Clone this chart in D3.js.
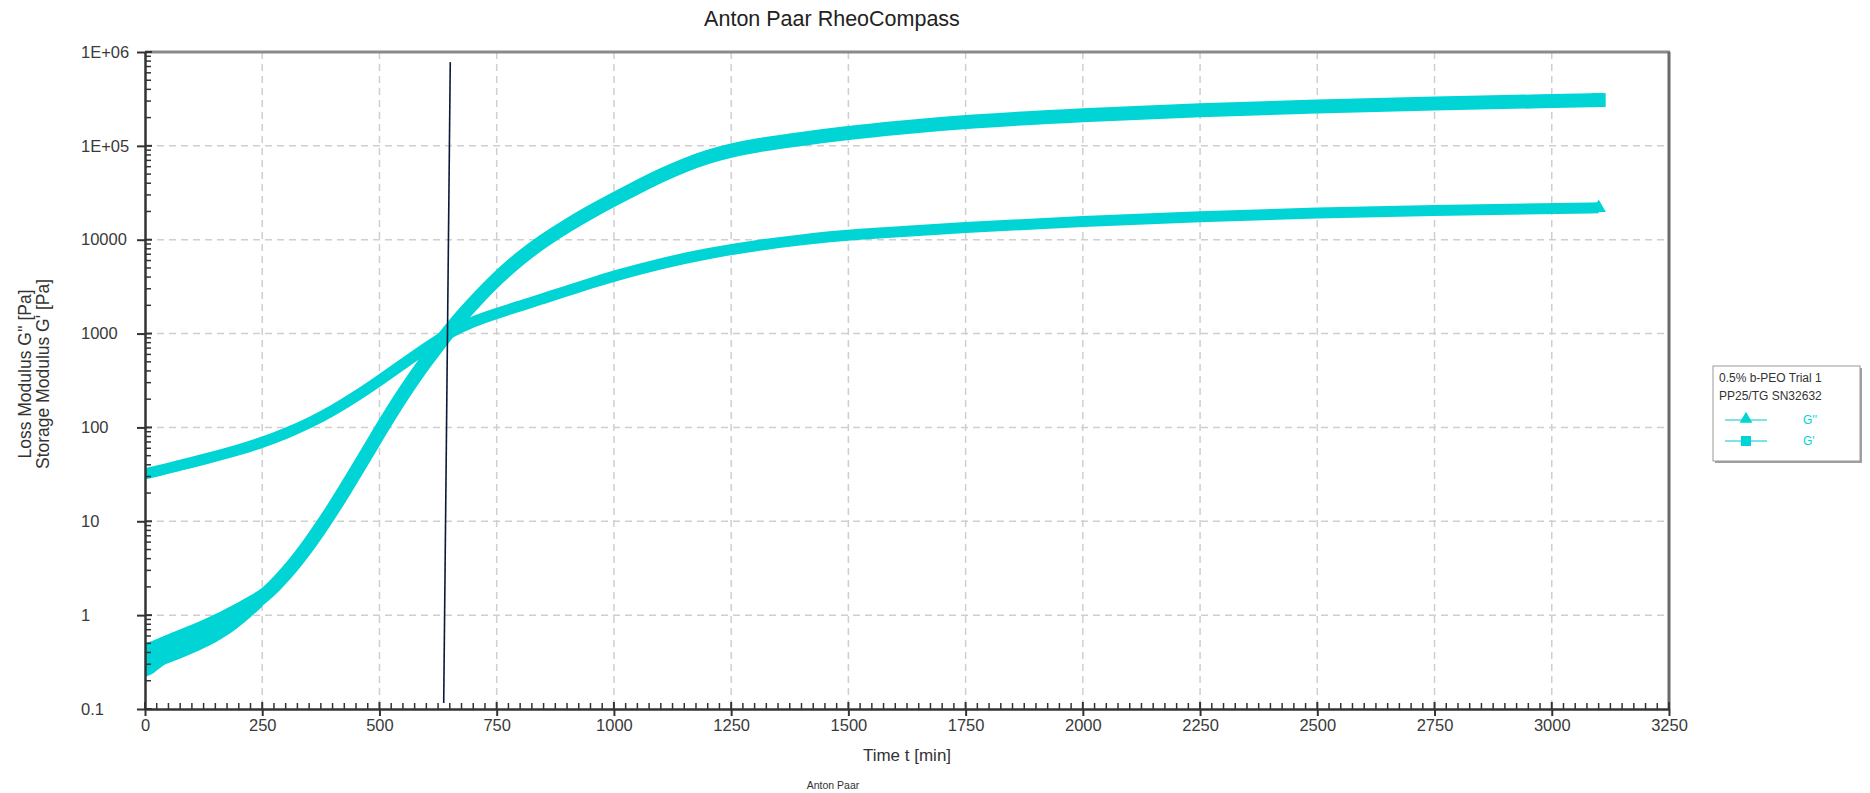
<!DOCTYPE html>
<html><head><meta charset="utf-8">
<script src="https://cdn.jsdelivr.net/npm/d3@7"></script>
<style>body{margin:0;background:#fff} text{font-family:"Liberation Sans",Arial,sans-serif}</style>
</head><body><svg id="c" width="1870" height="793"></svg>
<script>
const chartTitle = "Anton Paar RheoCompass";
const xAxisTitle = "Time t [min]";
const yAxisTitles = ["Loss Modulus  G''  [Pa]", "Storage Modulus  G'  [Pa]"];
const footerText = "Anton Paar";
const xTickValues = [0,250,500,750,1000,1250,1500,1750,2000,2250,2500,2750,3000,3250];
const yTickValues = [0.1,1,10,100,1000,10000,1e5,1e6];
const yTickLabels = ["0.1","1","10","100","1000","10000","1E+05","1E+06"];

const storageTime = [0,10,20,30,40,50,60,80,100,125,150,175,200,225,250,275,300,325,350,375,400,425,450,475,500,525,550,575,600,625,650,675,700,750,800,850,900,950,1000,1050,1100,1150,1200,1250,1300,1400,1500,1600,1750,2000,2250,2500,2750,3000,3100];
const storageModulus = [0.33,0.34,0.37,0.39,0.41,0.44,0.46,0.50,0.56,0.63,0.72,0.85,1.02,1.24,1.55,2.02,2.75,3.89,5.69,8.61,13.3,21.1,33.9,55.0,89.1,143,224,343,513,750,1084,1531,2113,3846,6383,9772,14125,19724,26915,36300,48400,62400,76700,89500,100700,118900,137400,154900,181100,213800,240400,262400,283100,299900,307600];
const storageSpreadTime = [0,20,40,60,100,150,200,225,250];
const storageSpreadLow  = [0.22,0.24,0.30,0.32,0.39,0.50,0.74,0.95,1.23];
const storageSpreadHigh = [0.50,0.54,0.60,0.66,0.79,1.02,1.38,1.62,1.95];

const lossTime = [0,25,50,75,100,125,150,200,250,300,350,400,450,500,550,600,650,700,750,800,850,900,950,1000,1100,1200,1300,1400,1500,1750,2000,2250,2500,2750,3000,3100];
const lossModulus = [32,34.3,36.7,39.5,42.5,45.7,49.2,57.5,69,86,111,150,214,316,473,708,1035,1350,1640,1970,2370,2850,3430,4100,5600,7150,8650,10000,11300,13600,15700,17600,19400,20500,21400,21900];

const markerLineTime = [651, 637];
const markerLineValue = [7.8e5, 0.116];

const legendTitles = ["0.5% b-PEO Trial 1", "PP25/TG SN32632"];
const seriesNames = ["G''", "G'"];
const seriesColor = "#00d4d4";

const L = 145, R = 1669, T = 52, B = 709;
const svg = d3.select("#c");
const x = d3.scaleLinear().domain([0, 3250]).range([L, R]);
const y = d3.scaleLog().domain([0.1, 1e6]).range([B, T]);

// grid
const grid = svg.append("g").attr("stroke", "#cfcfcf").attr("stroke-width", 1.5).attr("stroke-dasharray", "7,5");
grid.selectAll(".gx").data(xTickValues.slice(1, -1)).enter().append("line")
  .attr("x1", d => x(d)).attr("x2", d => x(d)).attr("y1", T).attr("y2", B);
grid.selectAll(".gy").data(yTickValues.slice(1, -1)).enter().append("line")
  .attr("x1", L).attr("x2", R).attr("y1", d => y(d)).attr("y2", d => y(d));

// clip
svg.append("clipPath").attr("id", "clip").append("rect").attr("x", L).attr("y", T).attr("width", R - L).attr("height", B - T);
const plot = svg.append("g").attr("clip-path", "url(#clip)");

const storage = storageTime.map((t, i) => ({t, v: storageModulus[i]}));
const loss = lossTime.map((t, i) => ({t, v: lossModulus[i]}));
const spread = storageSpreadTime.map((t, i) => ({t, lo: storageSpreadLow[i], hi: storageSpreadHigh[i]}));

const line = d3.line().x(d => x(d.t)).y(d => y(d.v)).curve(d3.curveBasis);

plot.append("path").datum(spread)
  .attr("d", d3.area().x(d => x(d.t)).y0(d => y(d.lo)).y1(d => y(d.hi)).curve(d3.curveBasis))
  .attr("fill", seriesColor);
plot.append("path").datum(loss).attr("d", line).attr("fill", "none").attr("stroke", seriesColor).attr("stroke-width", 11);
plot.append("path").datum(storage).attr("d", line).attr("fill", "none").attr("stroke", seriesColor).attr("stroke-width", 14);

// end markers
const lastS = storage[storage.length - 1], lastL = loss[loss.length - 1];
plot.append("rect").attr("x", x(lastS.t) - 7).attr("y", y(lastS.v) - 7).attr("width", 14).attr("height", 14).attr("fill", seriesColor);
plot.append("path").attr("d", d3.symbol().type(d3.symbolTriangle).size(90)()).attr("transform", `translate(${x(lastL.t)},${y(lastL.v)})`).attr("fill", seriesColor);

// annotation line
svg.append("line")
  .attr("x1", x(markerLineTime[0])).attr("y1", y(markerLineValue[0]))
  .attr("x2", x(markerLineTime[1])).attr("y2", y(markerLineValue[1]))
  .attr("stroke", "#0b1a38").attr("stroke-width", 1.6);

// frame top/right
svg.append("line").attr("x1", L).attr("x2", R + 1).attr("y1", T).attr("y2", T).attr("stroke", "#8a8a8a").attr("stroke-width", 3);
svg.append("line").attr("x1", R).attr("x2", R).attr("y1", T).attr("y2", B).attr("stroke", "#6a6a6a").attr("stroke-width", 3);

// minor ticks y
const minorY = [];
yTickValues.slice(0, -1).forEach(d => { for (let k = 2; k <= 9; k++) minorY.push(d * k); });
svg.append("g").selectAll("line").data(minorY).enter().append("line")
  .attr("x1", L).attr("x2", L + 6).attr("y1", d => y(d)).attr("y2", d => y(d))
  .attr("stroke", "#333").attr("stroke-width", 1.5);
// minor ticks x
const minorX = d3.range(25, 3250, 25).filter(d => d % 250 !== 0);
svg.append("g").selectAll("line").data(minorX).enter().append("line")
  .attr("x1", d => x(d)).attr("x2", d => x(d)).attr("y1", B).attr("y2", B - 6)
  .attr("stroke", "#333").attr("stroke-width", 1.5);
// inner parts of major ticks
svg.append("g").selectAll("line").data(yTickValues).enter().append("line")
  .attr("x1", L).attr("x2", L + 7).attr("y1", d => y(d)).attr("y2", d => y(d)).attr("stroke", "#333").attr("stroke-width", 2);
svg.append("g").selectAll("line").data(xTickValues).enter().append("line")
  .attr("x1", d => x(d)).attr("x2", d => x(d)).attr("y1", B).attr("y2", B - 7).attr("stroke", "#333").attr("stroke-width", 2);

// axes
const yAxis = svg.append("g").attr("transform", `translate(${L},0)`)
  .call(d3.axisLeft(y).tickValues(yTickValues).tickFormat((d, i) => yTickLabels[i]).tickSizeInner(8).tickSizeOuter(0));
const xAxis = svg.append("g").attr("transform", `translate(0,${B})`)
  .call(d3.axisBottom(x).tickValues(xTickValues).tickFormat(d3.format("d")).tickSizeInner(7).tickSizeOuter(0));
[yAxis, xAxis].forEach(a => {
  a.select(".domain").attr("stroke", "#333").attr("stroke-width", 2.5);
  a.selectAll(".tick line").attr("stroke", "#333").attr("stroke-width", 2);
  a.selectAll(".tick text").attr("fill", "#3a3a3a").style("font-size", "16.5px").style("font-family", "Liberation Sans, Arial, sans-serif");
});
yAxis.selectAll(".tick text").attr("x", 81 - L).attr("text-anchor", "start");
xAxis.selectAll(".tick text").attr("y", 10);

// titles
svg.append("text").attr("x", 832).attr("y", 26).attr("text-anchor", "middle").attr("fill", "#222").style("font-size", "21.5px").text(chartTitle);
svg.append("text").attr("x", (L + R) / 2).attr("y", 761).attr("text-anchor", "middle").attr("fill", "#333").style("font-size", "17px").text(xAxisTitle);
svg.append("text").attr("x", 833).attr("y", 789).attr("text-anchor", "middle").attr("fill", "#333").style("font-size", "10.5px").text(footerText);
[25, 43].forEach((cx, i) => {
  svg.append("text").attr("transform", `translate(${cx},374) rotate(-90)`).attr("text-anchor", "middle")
    .attr("dominant-baseline", "central").attr("fill", "#333").style("font-size", "17.5px").text(yAxisTitles[i]);
});

// legend
const lg = svg.append("g").attr("transform", "translate(1713,366)");
lg.append("rect").attr("x", 2).attr("y", 2).attr("width", 147).attr("height", 95).attr("fill", "#a0a0a0");
lg.append("rect").attr("width", 147).attr("height", 95).attr("fill", "#fff").attr("stroke", "#9a9a9a").attr("stroke-width", 1);
legendTitles.forEach((t, i) => {
  lg.append("text").attr("x", 6).attr("y", 16 + i * 18).attr("fill", "#333").style("font-size", "12px").text(t);
});
seriesNames.forEach((n, i) => {
  const yy = 54 + i * 21;
  lg.append("line").attr("x1", 12).attr("x2", 54).attr("y1", yy).attr("y2", yy).attr("stroke", "#7fe3e3").attr("stroke-width", 2);
  if (i === 0) lg.append("path").attr("d", d3.symbol().type(d3.symbolTriangle).size(70)()).attr("transform", `translate(33,${yy - 1})`).attr("fill", seriesColor);
  else lg.append("rect").attr("x", 28).attr("y", yy - 5).attr("width", 10).attr("height", 10).attr("fill", seriesColor);
  lg.append("text").attr("x", 90).attr("y", yy + 4).attr("fill", seriesColor).style("font-size", "12px").text(n);
});
</script></body></html>
